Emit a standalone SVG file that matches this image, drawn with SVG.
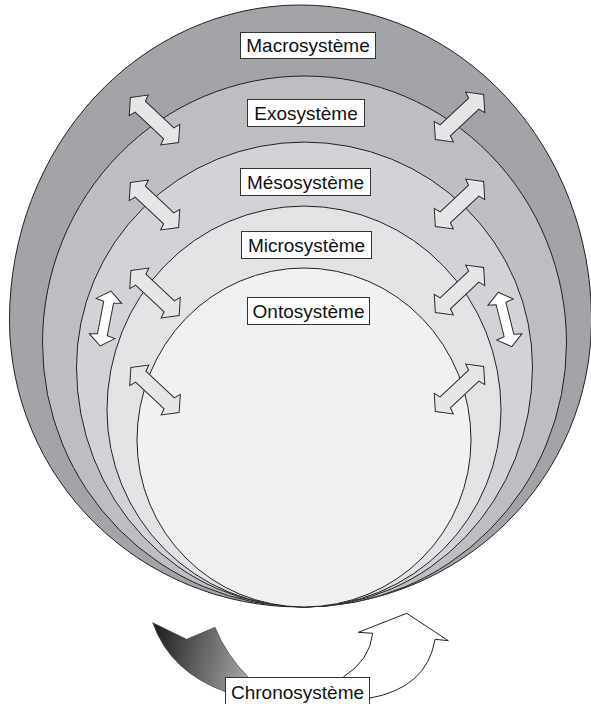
<svg xmlns="http://www.w3.org/2000/svg" width="591" height="704" viewBox="0 0 591 704">
<style>
.shell{stroke:#222;stroke-width:1}
.lbl rect{fill:#fff;stroke:#333;stroke-width:1}
.lbl text{font-family:"Liberation Sans",Arial,sans-serif;font-size:19px;fill:#111;text-anchor:middle}
.da{fill:#e6e6e8;stroke:#2a2a2a;stroke-width:1;stroke-linejoin:miter}
.va{fill:#fff;stroke:#2a2a2a;stroke-width:1}
</style>
<defs>
<path id="dbl" d="M -33,0 L -21.5,-14 L -19.5,-7.5 L 19.5,-7.5 L 21.5,-14 L 33,0 L 21.5,14 L 19.5,7.5 L -19.5,7.5 L -21.5,14 Z"/>
<path id="vdbl" d="M -28,0 L -18,-13 L -16.5,-5 L 16.5,-5 L 18,-13 L 28,0 L 18,13 L 16.5,5 L -16.5,5 L -18,13 Z"/>
<linearGradient id="dark" gradientUnits="userSpaceOnUse" x1="155" y1="640" x2="250" y2="660">
<stop offset="0" stop-color="#222"/>
<stop offset="1" stop-color="#a4a4a8"/>
</linearGradient>
</defs>

<g id="macrosysteme">
<path class="shell" fill="#a3a4a8" d="M 9.5,320 A 291,315 0 0 1 591.5,320 A 291,287 0 0 1 300.5,607 A 291,287 0 0 1 9.5,320 Z"/>
</g>
<g id="exosysteme">
<path class="shell" fill="#bdbec2" d="M 42.5,343 A 262,267 0 0 1 566.5,343 A 262,264 0 0 1 304.5,607 A 262,264 0 0 1 42.5,343 Z"/>
</g>
<g id="mesosysteme">
<path class="shell" fill="#d2d3d6" d="M 76.5,367 A 228,225 0 0 1 532.5,367 A 228,240 0 0 1 304.5,607 A 228,240 0 0 1 76.5,367 Z"/>
</g>
<g id="microsysteme">
<path class="shell" fill="#e2e3e5" d="M 107,410 A 197,204 0 0 1 501,410 A 197,197 0 0 1 304,607 A 197,197 0 0 1 107,410 Z"/>
</g>
<g id="ontosysteme">
<path class="shell" fill="#f0f1f3" d="M 137,440 A 167,172 0 0 1 471,440 A 167,167 0 0 1 304,607 A 167,167 0 0 1 137,440 Z"/>
</g>

<g id="connectors">
<use href="#dbl" class="da" transform="translate(154.5,120) rotate(43)"/>
<use href="#dbl" class="da" transform="translate(154.5,205) rotate(43)"/>
<use href="#dbl" class="da" transform="translate(155,293) rotate(43)"/>
<use href="#dbl" class="da" transform="translate(155,390) rotate(43)"/>
<use href="#dbl" class="da" transform="translate(459.5,117) rotate(-43)"/>
<use href="#dbl" class="da" transform="translate(459.5,204) rotate(-43)"/>
<use href="#dbl" class="da" transform="translate(459.5,290) rotate(-43)"/>
<use href="#dbl" class="da" transform="translate(459.5,389) rotate(-43)"/>
<use href="#vdbl" class="va" transform="translate(105.5,318.5) rotate(101)"/>
<use href="#vdbl" class="va" transform="translate(505,319.5) rotate(76)"/>
<path fill="url(#dark)" stroke="#333" stroke-width="0.6" d="M 152.7,622.7 L 186.7,639.3 L 215,627.3 Q 226,655 249,678 L 226,692 Q 170,672 152.7,622.7 Z"/>
<path fill="#fff" stroke="#222" stroke-width="1" d="M 343.3,677 Q 370,660 372.7,633.3 L 358.3,632.3 L 406.7,613.3 L 448.3,640.7 L 435,639.3 Q 427,688 369,698.3"/>
</g>

<g id="lbl-macro" class="lbl"><rect x="240.5" y="32.5" width="135" height="26"/><text x="308" y="52">Macrosystème</text></g>
<g id="lbl-exo" class="lbl"><rect x="247.5" y="99.5" width="117" height="27"/><text x="306" y="120">Exosystème</text></g>
<g id="lbl-meso" class="lbl"><rect x="240.5" y="168.5" width="130" height="27"/><text x="305.5" y="189">Mésosystème</text></g>
<g id="lbl-micro" class="lbl"><rect x="241.5" y="231.5" width="130" height="27"/><text x="306.5" y="252">Microsystème</text></g>
<g id="lbl-onto" class="lbl"><rect x="247.5" y="297.5" width="122" height="27"/><text x="308.5" y="318">Ontosystème</text></g>
<g id="lbl-chrono" class="lbl"><rect x="225.5" y="677.5" width="144" height="30"/><text x="297.5" y="699">Chronosystème</text></g>
</svg>
